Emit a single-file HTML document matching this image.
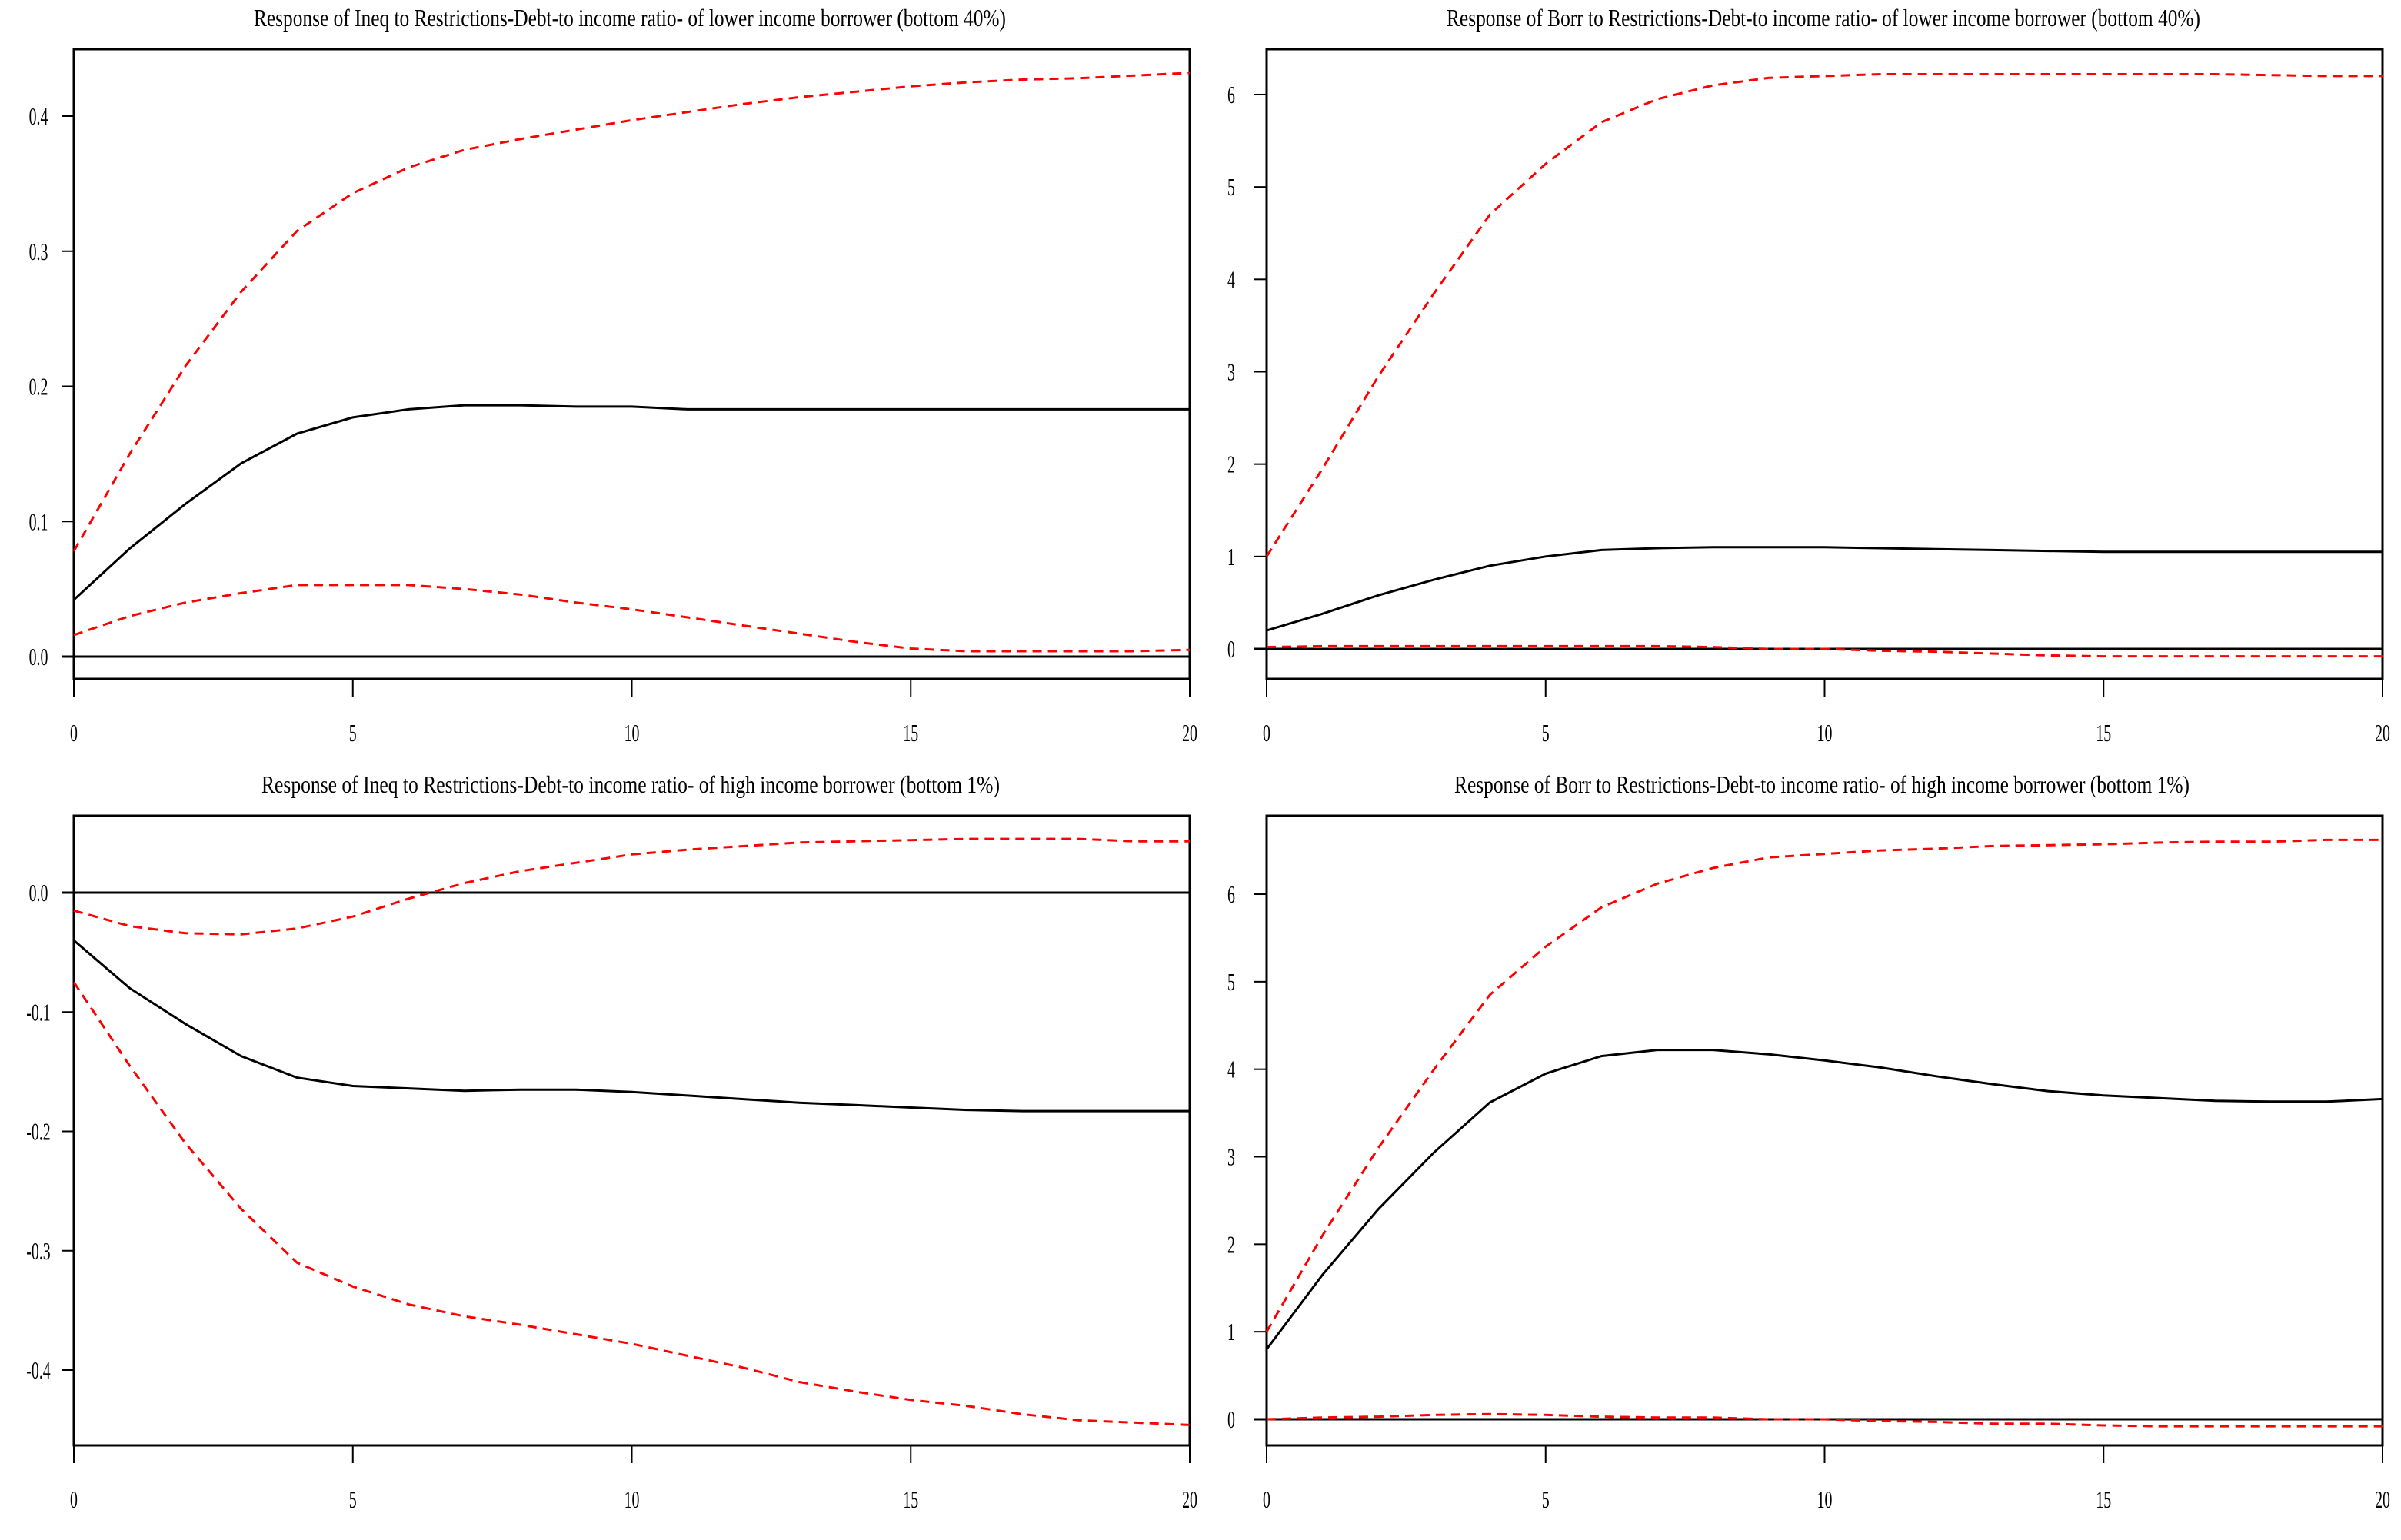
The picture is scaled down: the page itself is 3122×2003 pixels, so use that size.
<!DOCTYPE html>
<html><head><meta charset="utf-8">
<style>
html,body{margin:0;padding:0;background:#fff;}
svg{display:block;}
text{font-family:"Liberation Serif",serif;fill:#000;}
</style></head>
<body>
<svg id="chart" width="3122" height="2003" viewBox="0 0 3122 2003" xmlns="http://www.w3.org/2000/svg"></svg>
<script>
const periods = [0,1,2,3,4,5,6,7,8,9,10,11,12,13,14,15,16,17,18,19,20];
const xTicks = [0,5,10,15,20];

const tlTitle = "Response of Ineq to Restrictions-Debt-to income ratio- of lower income borrower (bottom 40%)";
const tlMid = [0.042,0.08,0.113,0.143,0.165,0.177,0.183,0.186,0.186,0.185,0.185,0.183,0.183,0.183,0.183,0.183,0.183,0.183,0.183,0.183,0.183];
const tlUp = [0.078,0.15,0.215,0.27,0.315,0.343,0.362,0.375,0.383,0.39,0.397,0.403,0.409,0.414,0.418,0.422,0.425,0.427,0.428,0.43,0.432];
const tlLo = [0.016,0.03,0.04,0.047,0.053,0.053,0.053,0.05,0.046,0.04,0.035,0.029,0.023,0.017,0.011,0.006,0.004,0.004,0.004,0.004,0.005];
const tlTicks = ["0.0","0.1","0.2","0.3","0.4"];
const tlTickVals = [0,0.1,0.2,0.3,0.4];

const trTitle = "Response of Borr to Restrictions-Debt-to income ratio- of lower income borrower (bottom 40%)";
const trMid = [0.2,0.38,0.58,0.75,0.9,1.0,1.07,1.09,1.1,1.1,1.1,1.09,1.08,1.07,1.06,1.05,1.05,1.05,1.05,1.05,1.05];
const trUp = [1.0,1.95,2.95,3.85,4.7,5.25,5.7,5.95,6.1,6.18,6.2,6.22,6.22,6.22,6.22,6.22,6.22,6.22,6.21,6.2,6.2];
const trLo = [0.02,0.03,0.03,0.03,0.03,0.03,0.03,0.03,0.02,0.0,0.0,-0.02,-0.03,-0.05,-0.07,-0.08,-0.08,-0.08,-0.08,-0.08,-0.08];
const trTicks = ["0","1","2","3","4","5","6"];
const trTickVals = [0,1,2,3,4,5,6];

const blTitle = "Response of Ineq to Restrictions-Debt-to income ratio- of high income borrower (bottom 1%)";
const blMid = [-0.04,-0.08,-0.11,-0.137,-0.155,-0.162,-0.164,-0.166,-0.165,-0.165,-0.167,-0.17,-0.173,-0.176,-0.178,-0.18,-0.182,-0.183,-0.183,-0.183,-0.183];
const blUp = [-0.015,-0.028,-0.034,-0.035,-0.03,-0.02,-0.005,0.008,0.018,0.025,0.032,0.036,0.039,0.042,0.043,0.044,0.045,0.045,0.045,0.043,0.043];
const blLo = [-0.075,-0.145,-0.21,-0.265,-0.31,-0.33,-0.345,-0.355,-0.362,-0.37,-0.378,-0.388,-0.398,-0.41,-0.418,-0.425,-0.43,-0.437,-0.442,-0.444,-0.446];
const blTicks = ["-0.4","-0.3","-0.2","-0.1","0.0"];
const blTickVals = [-0.4,-0.3,-0.2,-0.1,0];

const brTitle = "Response of Borr to Restrictions-Debt-to income ratio- of high income borrower (bottom 1%)";
const brMid = [0.8,1.65,2.4,3.05,3.62,3.95,4.15,4.22,4.22,4.17,4.1,4.02,3.92,3.83,3.75,3.7,3.67,3.64,3.63,3.63,3.66];
const brUp = [1.0,2.1,3.1,4.0,4.85,5.4,5.85,6.12,6.3,6.42,6.46,6.5,6.52,6.55,6.56,6.57,6.59,6.6,6.6,6.62,6.62];
const brLo = [0.0,0.02,0.03,0.05,0.06,0.05,0.03,0.02,0.02,0.0,0.0,-0.02,-0.03,-0.05,-0.05,-0.07,-0.08,-0.08,-0.08,-0.08,-0.08];
const brTicks = ["0","1","2","3","4","5","6"];
const brTickVals = [0,1,2,3,4,5,6];

const NS = "http://www.w3.org/2000/svg";
const svg = document.getElementById("chart");
function mk(tag, attrs, parent){
  const e = document.createElementNS(NS, tag);
  for (const k in attrs) e.setAttribute(k, attrs[k]);
  (parent||svg).appendChild(e);
  return e;
}

function panel(id, title, titleX, titleW, titleY, box, ymin, ymax, tickVals, tickLabels, mid, up, lo){
  const g = mk("g", {});
  
  
  const x = v => box.x0 + (v - 0) / 20 * (box.x1 - box.x0);
  const y = v => box.y1 - (v - ymin) / (ymax - ymin) * (box.y1 - box.y0);

  const t = mk("text", {x: titleX, y: titleY, "font-size": 32, textLength: titleW, lengthAdjust: "spacingAndGlyphs"}, g);
  t.textContent = title;
  
  

  const frame = mk("rect", {x: box.x0, y: box.y0, width: box.x1 - box.x0, height: box.y1 - box.y0, fill: "none", stroke: "#000", "stroke-width": 3}, g);
  
  

  // y ticks
  tickVals.forEach((v, i) => {
    const yy = y(v);
    const tk = mk("line", {x1: box.x0 - 16, x2: box.x0, y1: yy, y2: yy, stroke: "#000", "stroke-width": 2}, g);
    
    
    const lb = mk("text", {x: 0, y: 0, "font-size": 32, "text-anchor": "middle", transform: `translate(${box.x0 - 46},${yy + 11}) scale(0.62,1)`}, g);
    lb.textContent = tickLabels[i];
    
    
  });
  // x ticks
  xTicks.forEach(v => {
    const xx = x(v);
    const tk = mk("line", {x1: xx, x2: xx, y1: box.y1, y2: box.y1 + 23, stroke: "#000", "stroke-width": 2}, g);
    
    
    const lb = mk("text", {x: 0, y: 0, "font-size": 32, "text-anchor": "middle", transform: `translate(${xx},${box.y1 + 81}) scale(0.62,1)`}, g);
    lb.textContent = String(v);
    
    
  });
  // zero line
  const z = mk("line", {x1: box.x0 - 16, x2: box.x1, y1: y(0), y2: y(0), stroke: "#000", "stroke-width": 3}, g);
  
  

  const pts = arr => arr.map((v, i) => x(periods[i]).toFixed(1) + "," + y(v).toFixed(1)).join(" ");
  const u = mk("polyline", {points: pts(up), fill: "none", stroke: "#ff0000", "stroke-width": 3, "stroke-dasharray": "12,8"}, g);
  
  
  const l = mk("polyline", {points: pts(lo), fill: "none", stroke: "#ff0000", "stroke-width": 3, "stroke-dasharray": "12,8"}, g);
  
  
  const m = mk("polyline", {points: pts(mid), fill: "none", stroke: "#000", "stroke-width": 3}, g);
  
  
}

// top-left: 0 -> 854, 0.4 -> 151
panel("ineq-lower", tlTitle, 330, 978, 34, {x0:96, x1:1547, y0:64, y1:883}, (854-883)/1757.5, (854-64)/1757.5, tlTickVals, tlTicks, tlMid, tlUp, tlLo);
// top-right: 0 -> 844, 6 -> 123
panel("borr-lower", trTitle, 1881, 980, 34, {x0:1647, x1:3098, y0:64, y1:883}, (844-883)/120.17, (844-64)/120.17, trTickVals, trTicks, trMid, trUp, trLo);
// bottom-left: 0 -> 1161, -0.4 -> 1782
panel("ineq-high", blTitle, 340, 960, 1031, {x0:96, x1:1547, y0:1061, y1:1880}, (1161-1880)/1552.5, (1161-1061)/1552.5, blTickVals, blTicks, blMid, blUp, blLo);
// bottom-right: 0 -> 1846, 6 -> 1163
panel("borr-high", brTitle, 1891, 956, 1031, {x0:1647, x1:3098, y0:1061, y1:1880}, (1846-1880)/113.83, (1846-1061)/113.83, brTickVals, brTicks, brMid, brUp, brLo);
</script>
</body></html>
